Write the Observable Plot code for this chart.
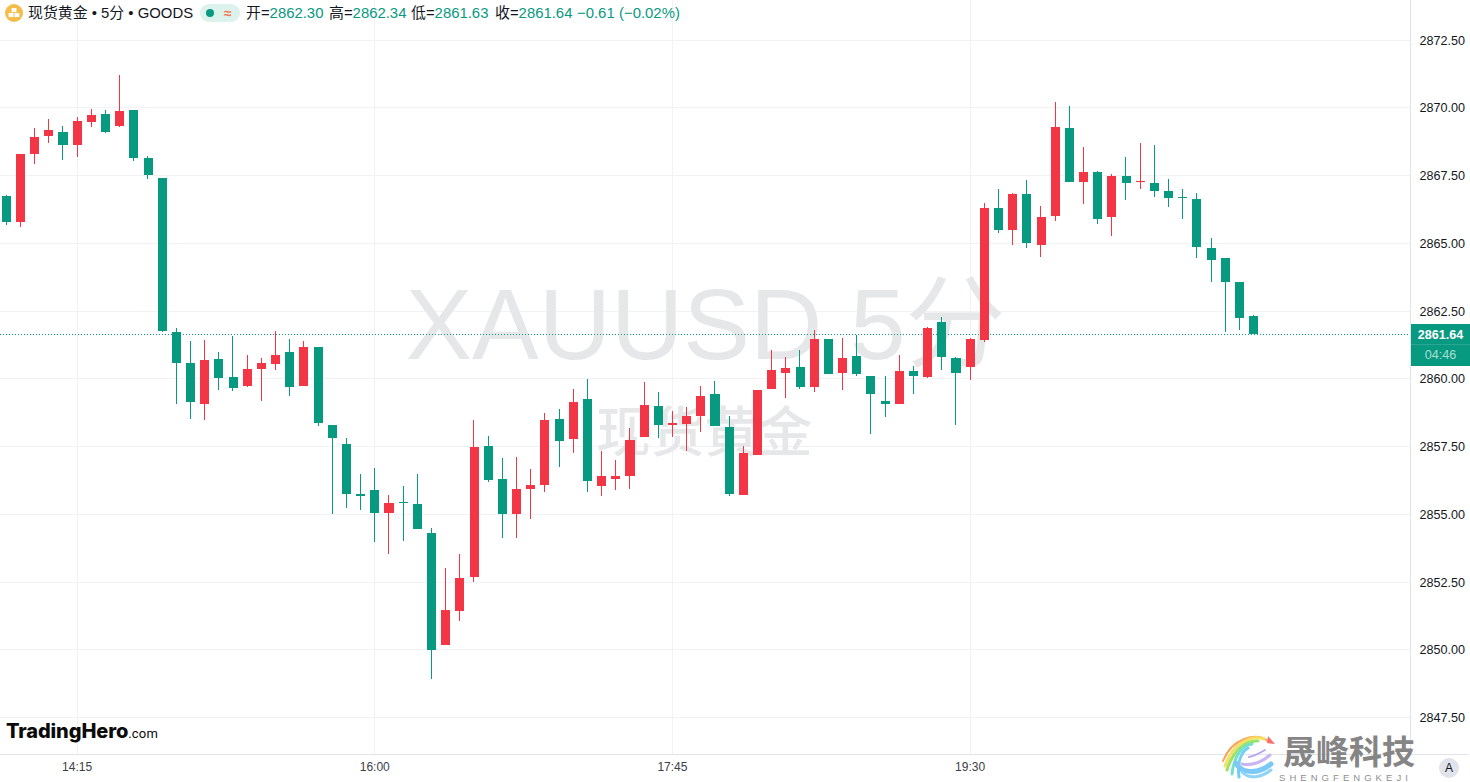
<!DOCTYPE html>
<html lang="zh">
<head>
<meta charset="utf-8">
<script src="https://cdn.jsdelivr.net/npm/d3@7"></script>
<script src="https://cdn.jsdelivr.net/npm/@observablehq/plot@0.6"></script>
<style>
html,body{margin:0;padding:0;background:#fff;overflow:hidden;}
#wrap{position:relative;width:1470px;height:782px;font-family:"Liberation Sans","Noto Sans CJK SC",sans-serif;color:#131722;}
#chart svg{display:block;}
.o{position:absolute;white-space:nowrap;}
.hd{top:4px;font-size:14.9px;line-height:18px;}
.v{color:#089981;}
</style>
</head>
<body>
<div id="wrap">
  <div id="chart"></div>

  <svg class="o" style="left:5px;top:4px" width="18" height="18" viewBox="0 0 16 16">
    <circle cx="8" cy="8" r="8" fill="#f4bd4a"/>
    <rect x="5.8" y="3.6" width="4.4" height="3.6" fill="#fff"/>
    <rect x="3.2" y="8" width="4.4" height="3.6" fill="#fff"/>
    <rect x="8.4" y="8" width="4.4" height="3.6" fill="#fff"/>
  </svg>
  <div class="o hd" style="left:28px">现货黄金 • 5分 • GOODS</div>
  <div class="o" style="left:200px;top:4px;width:40px;height:18px;border-radius:9px;background:#dcf2ed"></div>
  <div class="o" style="left:206px;top:9px;width:8px;height:8px;border-radius:50%;background:#089981"></div>
  <div class="o" style="left:224px;top:4px;font-size:14px;line-height:18px;font-weight:bold;color:#f7764d">≈</div>
  <div class="o hd" style="left:246px">开=<span class="v">2862.30</span></div>
  <div class="o hd" style="left:329px">高=<span class="v">2862.34</span></div>
  <div class="o hd" style="left:411px">低=<span class="v">2861.63</span></div>
  <div class="o hd" style="left:495px">收=<span class="v">2861.64</span></div>
  <div class="o hd v" style="left:577px">−0.61</div>
  <div class="o hd v" style="left:619px">(−0.02%)</div>

  <div class="o" style="left:1411px;top:324px;width:59px;height:42px;background:#089981"></div>
  <div class="o" style="left:1411px;top:344px;width:59px;height:1px;background:#2ba690"></div>
  <div class="o" style="left:1411px;top:325px;width:59px;height:20px;line-height:21px;text-align:center;font-size:12.6px;font-weight:bold;color:#fff">2861.64</div>
  <div class="o" style="left:1411px;top:345px;width:59px;height:21px;line-height:21px;text-align:center;font-size:12.6px;color:#a9dfd3">04:46</div>

  <div class="o" style="left:6px;top:716px;font-family:Inter,'Noto Sans',sans-serif;font-size:20px;line-height:30px;font-weight:800;color:#0b0b0b;letter-spacing:-.1px">TradingHero<span style="font-family:Roboto,sans-serif;font-size:13px;font-weight:400;letter-spacing:.2px">.com</span></div>

  <svg class="o" style="left:1218px;top:730px" width="58" height="52" viewBox="0 0 58 52" fill="none" stroke-linecap="round">
    <path d="M50 11 C38 2 14 8 5 31" stroke="#f7a35c" stroke-width="2"/>
    <path d="M46 9 C34 5 15 12 7 36" stroke="#f6e05e" stroke-width="3"/>
    <path d="M40 11 C28 10 15 20 9 40" stroke="#9be26b" stroke-width="3"/>
    <path d="M34 14 C24 15 16 26 14 44" stroke="#74e0c9" stroke-width="3"/>
    <path d="M30 18 C23 22 19 32 21 47" stroke="#6fd0f2" stroke-width="3"/>
    <path d="M18 33 C22 42 38 46 53 34" stroke="#7cc8f7" stroke-width="5"/>
    <path d="M24 42 C32 50 44 47 53 40" stroke="#8fd4f8" stroke-width="3"/>
    <path d="M24 34 C34 36 44 32 52 25" stroke="#c7b6f2" stroke-width="3"/>
    <path d="M31 27 C37 26 42 23 47 20" stroke="#b7a6ee" stroke-width="2"/>
    <path d="M50 6 L57 14 L49 13 Z" fill="#fb6d6d" stroke="none"/>
  </svg>
  <div class="o" style="left:1283px;top:731px;font-family:'Noto Sans CJK SC',sans-serif;font-size:33px;line-height:38px;font-weight:700;color:#858585">晟峰科技</div>
  <div class="o" style="left:1279px;top:772px;font-size:9.5px;line-height:11px;letter-spacing:4.05px;color:#8f8f8f">SHENGFENGKEJI</div>

  <div class="o" style="left:1439px;top:758px;width:20px;height:20px;border-radius:50%;background:#e0e3eb;text-align:center;line-height:20px;font-size:12px">A</div>
</div>

<script>
const timeLabels = ["14:15", "16:00", "17:45", "19:30"];
const timeIndexes = [5, 26, 47, 68];
const priceTicks = [2847.5, 2850, 2852.5, 2855, 2857.5, 2860, 2862.5, 2865, 2867.5, 2870, 2872.5];
const lastPrice = 2861.64;

const opens = [2866.73,2865.77,2868.28,2868.94,2869.09,2868.61,2869.46,2869.76,2869.31,2869.90,
2868.13,2867.40,2861.71,2860.57,2859.06,2860.72,2860.05,2859.72,2860.35,2860.53,
2860.97,2859.72,2861.16,2858.28,2857.58,2855.73,2855.88,2855.03,2855.44,2855.36,
2854.30,2850.16,2851.42,2852.67,2857.50,2856.29,2855.00,2855.92,2856.07,2858.50,
2857.76,2859.24,2856.03,2856.29,2856.40,2857.84,2858.98,2858.28,2858.32,2858.61,
2859.42,2858.21,2855.70,2857.17,2859.61,2860.20,2860.42,2859.68,2861.45,2860.20,
2860.83,2860.09,2859.17,2859.06,2860.27,2860.05,2862.08,2860.75,2860.42,2861.42,
2866.29,2865.48,2866.80,2864.92,2865.99,2869.24,2867.25,2867.62,2865.96,2867.47,
2867.25,2867.21,2866.92,2866.69,2866.62,2864.81,2864.44,2863.56,2862.30];
const highs = [2866.77,2868.28,2869.24,2869.57,2869.31,2869.65,2869.94,2869.90,2871.20,2869.90,
2868.21,2867.40,2861.86,2861.38,2861.42,2860.97,2861.56,2860.86,2860.75,2861.75,
2861.45,2861.38,2861.16,2858.28,2857.80,2856.47,2856.69,2855.70,2856.03,2856.47,
2854.48,2853.00,2853.52,2858.46,2857.87,2857.06,2857.10,2856.66,2858.72,2858.87,
2859.61,2859.98,2857.32,2856.99,2858.17,2859.87,2859.50,2858.80,2858.94,2859.72,
2859.90,2858.61,2857.51,2859.57,2861.05,2860.79,2861.05,2861.79,2861.45,2861.49,
2861.60,2860.09,2860.09,2860.86,2860.46,2861.90,2862.25,2860.79,2861.49,2866.47,
2866.99,2866.84,2867.32,2866.36,2870.20,2870.05,2868.54,2867.65,2867.54,2868.17,
2868.69,2868.61,2867.36,2866.99,2866.84,2865.18,2864.44,2863.56,2862.34];
const lows = [2865.66,2865.59,2867.91,2868.69,2868.06,2868.17,2869.28,2869.06,2869.28,2868.02,
2867.36,2861.71,2859.06,2858.50,2858.47,2859.57,2859.54,2859.68,2859.17,2860.31,
2859.35,2859.72,2858.24,2855.00,2855.22,2855.14,2853.96,2853.52,2854.00,2854.44,
2848.91,2850.16,2851.05,2852.49,2856.18,2854.11,2854.11,2854.81,2855.81,2856.73,
2857.25,2855.81,2855.66,2855.88,2855.92,2857.84,2857.80,2857.84,2857.32,2858.02,
2858.24,2855.66,2855.70,2857.17,2859.61,2859.28,2859.61,2859.50,2860.16,2859.57,
2860.09,2857.95,2858.58,2859.06,2859.42,2860.01,2860.31,2858.28,2859.94,2861.34,
2865.37,2864.92,2864.81,2864.48,2865.81,2867.25,2866.44,2865.70,2865.25,2866.58,
2866.99,2866.69,2866.32,2865.88,2864.44,2863.56,2861.71,2861.79,2861.63];
const closes = [2865.77,2868.28,2868.91,2869.17,2868.61,2869.50,2869.72,2869.09,2869.87,2868.13,
2867.51,2861.75,2860.57,2859.13,2860.68,2860.01,2859.65,2860.35,2860.57,2860.86,
2859.68,2861.16,2858.35,2857.80,2855.73,2855.66,2855.03,2855.40,2855.40,2854.44,
2849.98,2851.45,2852.63,2857.47,2856.25,2855.00,2855.92,2856.07,2858.46,2857.69,
2859.13,2856.21,2856.40,2856.40,2857.73,2859.02,2858.28,2858.35,2858.61,2859.35,
2858.24,2855.73,2857.25,2859.57,2860.31,2860.38,2859.68,2861.45,2860.16,2860.75,
2860.16,2859.42,2859.06,2860.27,2860.09,2861.86,2860.79,2860.20,2861.45,2866.29,
2865.48,2866.80,2864.99,2865.96,2869.28,2867.25,2867.62,2865.88,2867.47,2867.21,
2867.28,2866.92,2866.66,2866.66,2864.85,2864.37,2863.56,2862.23,2861.64];

const upColor = "#f23645", downColor = "#089981", gridColor = "#f1f2f6", axisColor = "#e0e3eb";
const candles = opens.map((open, i) => ({i, open, high: highs[i], low: lows[i], close: closes[i]}));
const tint = d => d.close >= d.open ? upColor : downColor;
const xDomain = [-0.4444, 99.03];
const xEdge = 103.2;
const yDomain = [2846.14, 2873.963];

const chart = Plot.plot({
  width: 1470, height: 782,
  marginLeft: 0, marginRight: 60, marginTop: 0, marginBottom: 28,
  style: {fontFamily: '"Liberation Sans", sans-serif', background: "#fff", color: "#131722"},
  x: {domain: xDomain, axis: null},
  y: {domain: yDomain, axis: null},
  color: {type: "identity"},
  marks: [
    Plot.ruleY(priceTicks, {stroke: gridColor, shapeRendering: "crispEdges"}),
    Plot.ruleX(timeIndexes, {stroke: gridColor, dx: -0.6, shapeRendering: "crispEdges"}),
    Plot.text(["XAUUSD 5分"], {frameAnchor: "middle", dy: -51, fontSize: 100, fill: "#e6e7e9",
      fontFamily: '"Liberation Sans", "Noto Sans CJK SC", sans-serif'}),
    Plot.text(["现货黄金"], {frameAnchor: "middle", dx: -1, dy: 57, fontSize: 54, fontWeight: 500, fill: "#e6e7e9",
      fontFamily: '"Noto Sans CJK SC", sans-serif'}),
    Plot.ruleY([lastPrice], {stroke: downColor, strokeDasharray: "1 2", shapeRendering: "crispEdges"}),
    Plot.ruleX(candles, {x: "i", y1: "low", y2: "high", stroke: tint, dx: -0.6, shapeRendering: "crispEdges"}),
    Plot.rect(candles, {x1: d => d.i - 0.32, x2: d => d.i + 0.32, y1: "open", y2: "close", fill: tint, shapeRendering: "crispEdges"}),
    Plot.ruleX([xDomain[1]], {stroke: axisColor, shapeRendering: "crispEdges"}),
    Plot.ruleY([yDomain[0]], {x1: xDomain[0], x2: xEdge, stroke: axisColor, shapeRendering: "crispEdges"}),
    Plot.axisY({anchor: "right", tickSize: 0, tickPadding: 9, ticks: priceTicks, dy: 0.5,
      tickFormat: d => d.toFixed(2), label: null, fontSize: 12.6, fill: "#131722"}),
    Plot.axisX({anchor: "bottom", tickSize: 0, tickPadding: 8, ticks: timeIndexes, dx: -0.6,
      tickFormat: d => timeLabels[timeIndexes.indexOf(d)], label: null, fontSize: 12, fill: "#3c4049"})
  ]
});
document.getElementById("chart").append(chart);
</script>
</body>
</html>
